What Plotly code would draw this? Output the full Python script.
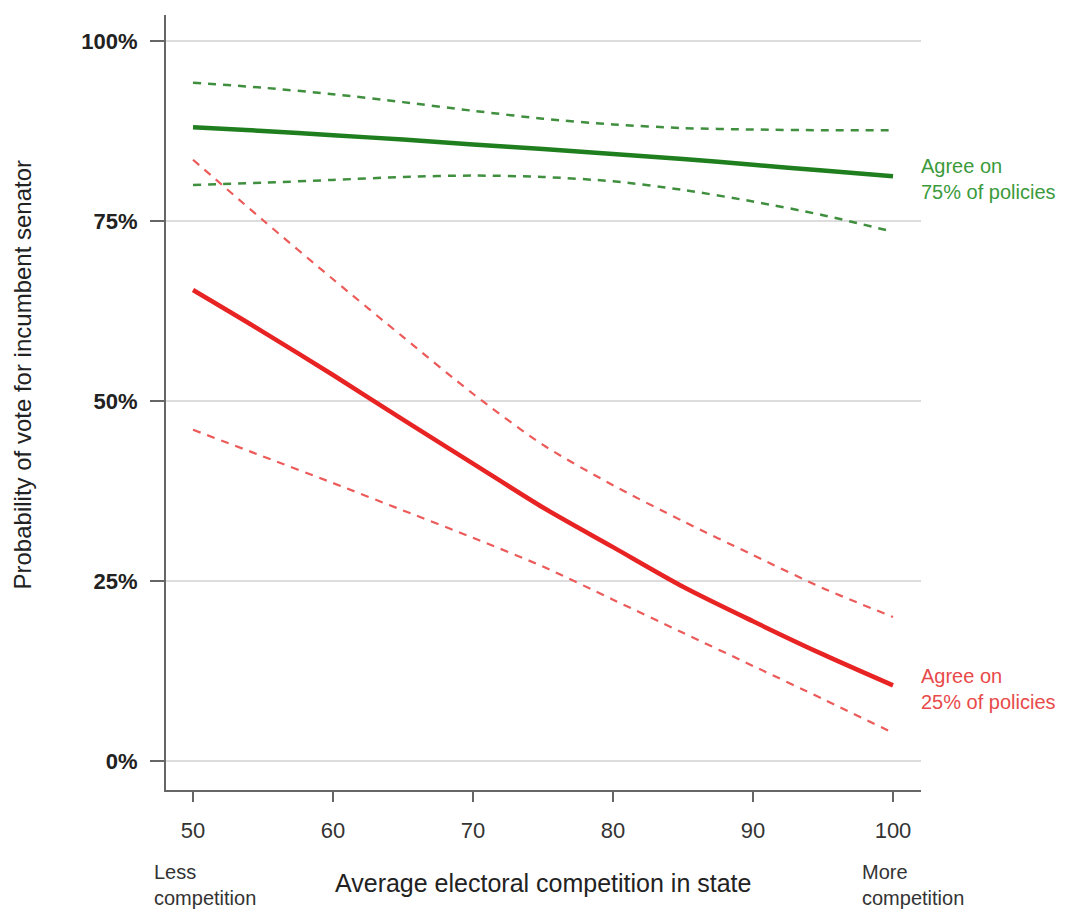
import plotly.graph_objects as go

competition = [50, 55, 60, 65, 70, 75, 80, 85, 90, 95, 100]

agree75_mean = [88.0, 87.5, 86.9, 86.3, 85.6, 85.0, 84.3, 83.6, 82.8, 82.0, 81.2]
agree75_upper = [94.2, 93.5, 92.6, 91.5, 90.3, 89.2, 88.4, 87.9, 87.7, 87.6, 87.6]
agree75_lower = [80.0, 80.3, 80.7, 81.1, 81.3, 81.1, 80.5, 79.3, 77.7, 75.8, 73.5]

agree25_mean = [65.4, 59.6, 53.6, 47.4, 41.3, 35.2, 29.7, 24.2, 19.4, 14.8, 10.5]
agree25_upper = [83.5, 75.1, 66.9, 58.9, 51.0, 43.9, 38.3, 33.3, 28.6, 24.0, 20.0]
agree25_lower = [46.0, 42.3, 38.6, 34.8, 31.0, 27.0, 22.4, 17.8, 13.2, 8.6, 3.9]

x_ticks = [50, 60, 70, 80, 90, 100]
y_ticks = [0, 25, 50, 75, 100]
y_tick_labels = ["0%", "25%", "50%", "75%", "100%"]

GREEN = "#1f7f1f"
GREEN_D = "#3f8f3f"
GREEN_T = "#3b9a3b"
RED = "#e82323"
RED_D = "#ec5a5a"
RED_T = "#e84a4a"
FONT = "Liberation Sans, Arial, sans-serif"

fig = go.Figure()

def add(y, color, width, dash=None):
    fig.add_trace(go.Scatter(
        x=competition, y=y, mode="lines",
        line=dict(color=color, width=width, dash=dash, shape="spline", smoothing=0.8),
        hoverinfo="skip", showlegend=False))

add(agree75_upper, GREEN_D, 2.5, "8px,7px")
add(agree75_lower, GREEN_D, 2.5, "8px,7px")
add(agree25_upper, RED_D, 2.2, "8px,7px")
add(agree25_lower, RED_D, 2.2, "8px,7px")
add(agree75_mean, GREEN, 4.5)
add(agree25_mean, RED, 4.5)

fig.update_layout(
    width=1061, height=901,
    margin=dict(l=158, r=148, t=7, b=119),
    paper_bgcolor="white", plot_bgcolor="white",
    font=dict(family=FONT, size=22, color="#333"),
    xaxis=dict(
        range=[48.07, 102], tickvals=x_ticks, ticks="outside", ticklen=10, tickwidth=2,
        tickcolor="#666", showline=True, linecolor="#666", linewidth=2,
        showgrid=False, zeroline=False, ticklabelstandoff=10,
        tickfont=dict(family=FONT, size=22, color="#333")),
    yaxis=dict(
        range=[-4.03, 103.6], tickvals=y_ticks, ticktext=["<b>%s</b>" % t for t in y_tick_labels],
        ticks="outside", ticklen=14, tickwidth=2, tickcolor="#666",
        showline=True, linecolor="#666", linewidth=2,
        showgrid=True, gridcolor="#dddddd", gridwidth=2, zeroline=False,
        ticklabelstandoff=8,
        tickfont=dict(family=FONT, size=22, color="#222")),
)

fig.add_annotation(x=0, y=0.5, xref="paper", yref="paper", xanchor="center", yanchor="middle",
                   xshift=-144, yshift=28, textangle=-90,
                   text="Probability of vote for incumbent senator", showarrow=False,
                   font=dict(family=FONT, size=24, color="#222"))
fig.add_annotation(x=100, y=agree75_mean[-1], xref="x", yref="y", xanchor="left", yanchor="middle",
                   xshift=26, yshift=-3, text="Agree on<br>75% of policies", showarrow=False, align="left",
                   font=dict(family=FONT, size=20, color=GREEN_T))
fig.add_annotation(x=100, y=agree25_mean[-1], xref="x", yref="y", xanchor="left", yanchor="middle",
                   xshift=26, yshift=-4, text="Agree on<br>25% of policies", showarrow=False, align="left",
                   font=dict(family=FONT, size=20, color=RED_T))
fig.add_annotation(x=0, y=0, xref="paper", yref="paper", xanchor="left", yanchor="middle",
                   xshift=-14, yshift=-95, text="Less<br>competition", showarrow=False, align="left",
                   font=dict(family=FONT, size=20, color="#333"))
fig.add_annotation(x=1, y=0, xref="paper", yref="paper", xanchor="left", yanchor="middle",
                   xshift=-61, yshift=-95, text="More<br>competition", showarrow=False, align="left",
                   font=dict(family=FONT, size=20, color="#333"))
fig.add_annotation(x=0.5, y=0, xref="paper", yref="paper", xanchor="center", yanchor="middle",
                   xshift=-1, yshift=-93, text="Average electoral competition in state", showarrow=False,
                   font=dict(family=FONT, size=25, color="#222"))

fig.write_html("out.html")
